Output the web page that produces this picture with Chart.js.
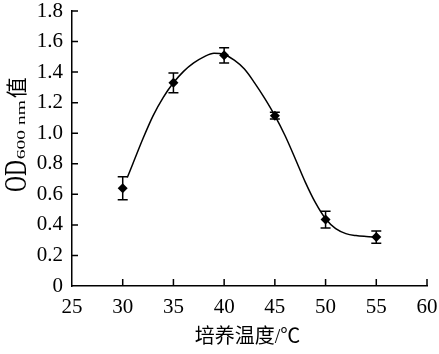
<!DOCTYPE html>
<html>
<head>
<meta charset="utf-8">
<script src="https://cdn.jsdelivr.net/npm/chart.js@4/dist/chart.umd.min.js"></script>
<style>
  html, body { margin: 0; padding: 0; background: #fff; }
  #wrap { width: 439px; height: 354px; }
</style>
</head>
<body>
<div id="wrap"><canvas id="od-chart" width="439" height="354"></canvas></div>
<script>
// measured points (temperature, OD600, error)
var tempValues = [30, 35, 40, 45, 50, 55];
var odValues   = [0.64, 1.33, 1.51, 1.115, 0.435, 0.32];
var odErrors   = [0.075, 0.065, 0.05, 0.022, 0.055, 0.04];

// fitted curve
var curveX = [30.45, 31, 32, 33, 34, 35, 36, 37, 38, 39, 40, 41, 42, 43, 44, 45, 46, 47, 48, 49, 50, 51, 52, 53, 54, 55];
var curveY = [0.71, 0.80, 0.965, 1.115, 1.235, 1.33, 1.405, 1.46, 1.50, 1.523, 1.515, 1.478, 1.42, 1.33, 1.228, 1.115, 0.985, 0.835, 0.68, 0.545, 0.44, 0.375, 0.343, 0.33, 0.324, 0.32];

var xTicks = [25, 30, 35, 40, 45, 50, 55, 60];
var yTicks = [0, 0.2, 0.4, 0.6, 0.8, 1.0, 1.2, 1.4, 1.6, 1.8];

const SERIF = "'Liberation Serif', 'Times New Roman', serif";
const CJK = "'Liberation Serif', 'Noto Sans CJK SC', serif";

const errorBars = {
    id: 'errorBars',
    afterDatasetsDraw(chart) {
        const { ctx, scales: { x, y } } = chart;
        ctx.save();
        ctx.strokeStyle = '#000';
        ctx.lineWidth = 1.5;
        tempValues.forEach((t, i) => {
            const px = x.getPixelForValue(t);
            const top = y.getPixelForValue(odValues[i] + odErrors[i]);
            const bot = y.getPixelForValue(odValues[i] - odErrors[i]);
            ctx.beginPath();
            ctx.moveTo(px, top); ctx.lineTo(px, bot);
            ctx.moveTo(px - 5, top); ctx.lineTo(px + 5, top);
            ctx.moveTo(px - 5, bot); ctx.lineTo(px + 5, bot);
            ctx.stroke();
        });
        ctx.restore();
    }
};

// inward tick marks and the two axis titles
const axisDecor = {
    id: 'axisDecor',
    afterDraw(chart) {
        const { ctx, chartArea: area, scales: { x, y } } = chart;
        ctx.save();
        ctx.strokeStyle = '#000';
        ctx.lineWidth = 1.5;
        ctx.beginPath();
        xTicks.slice(1).forEach(t => {
            const px = x.getPixelForValue(t);
            ctx.moveTo(px, area.bottom); ctx.lineTo(px, area.bottom - 7);
        });
        yTicks.slice(1).forEach(v => {
            const py = y.getPixelForValue(v);
            ctx.moveTo(area.left, py); ctx.lineTo(area.left + 6, py);
        });
        ctx.stroke();

        ctx.fillStyle = '#000';
        // x title
        ctx.font = '20px ' + CJK;
        ctx.textAlign = 'center';
        ctx.textBaseline = 'middle';
        ctx.fillText('培养温度/℃', (area.left + area.right) / 2 - 2, 338);

        // y title: OD + subscript 600 nm + 值, rotated
        ctx.translate(26, 192);
        ctx.rotate(-Math.PI / 2);
        ctx.textAlign = 'left';
        ctx.textBaseline = 'alphabetic';
        ctx.font = '22px ' + SERIF;
        ctx.save();
        ctx.scale(1, 1.45);
        ctx.fillText('OD', 0, 0);
        ctx.restore();
        let off = ctx.measureText('OD').width + 1;
        ctx.font = '13px ' + SERIF;
        ctx.save();
        ctx.translate(off, -1);
        ctx.scale(1.5, 1);
        ctx.fillText('600 nm', 0, 0);
        ctx.restore();
        off += ctx.measureText('600 nm').width * 1.5 + 2;
        ctx.font = '21px ' + CJK;
        ctx.fillText('值', off, -2);
        ctx.restore();
    }
};

new Chart(document.getElementById('od-chart'), {
    type: 'scatter',
    data: {
        datasets: [
            {
                label: 'OD600',
                data: tempValues.map((t, i) => ({ x: t, y: odValues[i] })),
                pointStyle: 'rectRot',
                pointRadius: 5,
                backgroundColor: '#000',
                borderColor: '#000',
                borderWidth: 0,
                order: 0
            },
            {
                label: 'fit',
                data: curveX.map((t, i) => ({ x: t, y: curveY[i] })),
                showLine: true,
                cubicInterpolationMode: 'monotone',
                borderColor: '#000',
                borderWidth: 1.5,
                pointRadius: 0,
                order: 1
            }
        ]
    },
    options: {
        responsive: false,
        animation: false,
        layout: { padding: { top: 11, right: 12, left: 0, bottom: 0 } },
        plugins: { legend: { display: false }, tooltip: { enabled: false } },
        scales: {
            x: {
                type: 'linear',
                min: 25, max: 60,
                afterBuildTicks: s => { s.ticks = xTicks.map(v => ({ value: v })); },
                afterFit: s => { s.height = 68; s.paddingLeft = 0; s.paddingRight = 0; },
                grid: { display: false, drawTicks: false },
                border: { display: true, color: '#000', width: 1.5 },
                ticks: { color: '#000', padding: 9, font: { family: SERIF, size: 21 } }
            },
            y: {
                min: 0, max: 1.8,
                afterBuildTicks: s => { s.ticks = yTicks.map(v => ({ value: v })); },
                afterFit: s => { s.width = 72; s.paddingTop = 0; s.paddingBottom = 0; },
                grid: { display: false, drawTicks: false },
                border: { display: true, color: '#000', width: 1.5 },
                ticks: {
                    color: '#000', padding: 9,
                    font: { family: SERIF, size: 21 },
                    callback: v => v === 0 ? '0' : v.toFixed(1)
                }
            }
        }
    },
    plugins: [errorBars, axisDecor]
});
</script>
</body>
</html>
